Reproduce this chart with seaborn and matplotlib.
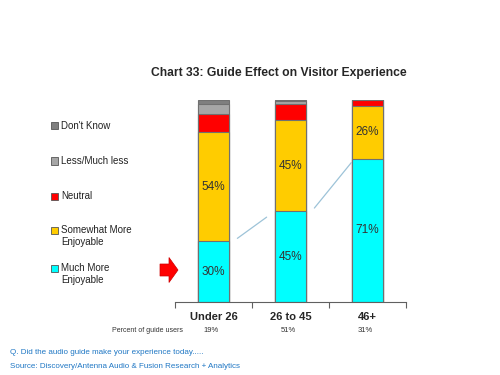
import numpy as np
import pandas as pd
import matplotlib
matplotlib.use('Agg')
import matplotlib.pyplot as plt
import seaborn as sns
from matplotlib.patches import FancyArrow

# Dados do gráfico
grupos = ['Under 26', '26 to 45', '46+']
muito_mais = [30, 45, 71]
pouco_mais = [54, 45, 26]
neutro = [9, 8, 3]
menos = [5, 1.5, 0]
nao_sabe = [2, 0.5, 0]
usuarios = ['19%', '51%', '31%']

series = ['Much More\nEnjoyable', 'Somewhat More\nEnjoyable', 'Neutral', 'Less/Much less', "Don't Know"]
valores = [muito_mais, pouco_mais, neutro, menos, nao_sabe]
cores = ['#00FFFF', '#FFCC00', '#FF0000', '#A6A6A6', '#7F7F7F']

sns.set_style('white')
plt.rcParams['font.family'] = ['Liberation Sans', 'DejaVu Sans']

fig = plt.figure(figsize=(5, 3.75), dpi=100)
ax = fig.add_axes([0.35, 0.1947, 0.462, 0.5387])

# Barras empilhadas: desenha do total acumulado para baixo
acumulado = np.cumsum(np.array(valores), axis=0)
for i in range(len(series) - 1, -1, -1):
    df = pd.DataFrame({'grupo': grupos, 'valor': acumulado[i]})
    sns.barplot(data=df, x='grupo', y='valor', color=cores[i], width=0.4,
                edgecolor='#707070', linewidth=0.8, saturation=1, ax=ax)

# Rótulos de porcentagem
for j in range(len(grupos)):
    base = 0
    for i in range(2):
        v = valores[i][j]
        ax.text(j, base + v / 2, f'{v:.0f}%', ha='center', va='center',
                fontsize=8.5, color='#333333')
        base += v

# Linhas ligando as barras
ax.plot([0.31, 0.69], [31.5, 42], color='#9DC3D8', lw=0.9)
ax.plot([1.31, 1.79], [46.5, 69], color='#9DC3D8', lw=0.9)

ax.set_xlim(-0.5, 2.5)
ax.set_ylim(0, 100)
ax.set_xlabel('')
ax.set_ylabel('')
ax.set_yticks([])
ax.set_xticks([-0.5, 0.5, 1.5, 2.5])
ax.set_xticklabels([])
ax.tick_params(axis='x', direction='out', length=4, color='#606060', width=0.8, bottom=True)
for s in ['top', 'right', 'left']:
    ax.spines[s].set_visible(False)
ax.spines['bottom'].set_color('#606060')
ax.spines['bottom'].set_linewidth(0.8)

for j, g in enumerate(grupos):
    ax.text(j, -7.5, g, ha='center', va='center', fontsize=8, fontweight='bold',
            clip_on=False)
    ax.text(j - 0.03, -14, usuarios[j], ha='center', va='center', fontsize=5.5,
            color='#333333', clip_on=False)
ax.text(-0.39, -14, 'Percent of guide users', ha='right', va='center', fontsize=5,
        color='#333333', clip_on=False)

# Título
fig.text(0.557, 0.805, 'Chart 33: Guide Effect on Visitor Experience', ha='center',
         va='center', fontsize=8.7, fontweight='bold')

# Legenda manual à esquerda
leg_y = [126, 161, 196, 236, 274]
for i in range(len(series) - 1, -1, -1):
    y = leg_y[len(series) - 1 - i]
    nl = series[i].count('\n')
    fig.patches.append(plt.Rectangle((51 / 500, 1 - (y + 3.5) / 375 + (nl * 6) / 375), 7 / 500, 7 / 375,
                                     transform=fig.transFigure, facecolor=cores[i],
                                     edgecolor='#555555', linewidth=0.6))
    fig.text(61 / 500, 1 - y / 375, series[i], ha='left', va='center', fontsize=7,
             color='#222222', linespacing=1.3)

# Seta vermelha
fig.patches.append(FancyArrow(160 / 500, 1 - 270 / 375, 18 / 500, 0, width=12 / 375,
                              head_width=25 / 375, head_length=9 / 500,
                              length_includes_head=True, transform=fig.transFigure,
                              facecolor='#FF0000', edgecolor='#CC0000', linewidth=0.5))

# Notas de rodapé
fig.text(10 / 500, 1 - 353 / 375, 'Q. Did the audio guide make your experience today.....',
         fontsize=5.8, color='#1F77C4', va='center')
fig.text(10 / 500, 1 - 367 / 375, 'Source: Discovery/Antenna Audio & Fusion Research + Analytics',
         fontsize=5.8, color='#1F77C4', va='center')

fig.savefig('out.png', dpi=100, facecolor='white')
